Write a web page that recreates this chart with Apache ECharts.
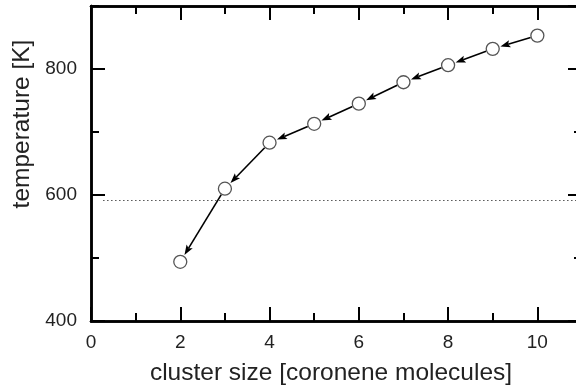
<!DOCTYPE html>
<html>
<head>
<meta charset="utf-8">
<script src="https://cdn.jsdelivr.net/npm/echarts@6/dist/echarts.min.js"></script>
<style>
html,body{margin:0;padding:0;background:#fff;}
#chart{width:576px;height:387px;}
</style>
</head>
<body>
<div id="chart"></div>
<script>
// ---- data ----
const clusterSize = [2, 3, 4, 5, 6, 7, 8, 9, 10];
const temperature = [494, 610, 683, 713, 745, 779, 806, 832, 853];
const referenceTemp = 591;
const xTicks = [0, 2, 4, 6, 8, 10];
const yTicks = [400, 600, 800];
const xTitle = 'cluster size [coronene molecules]';
const yTitle = 'temperature [K]';

const points = clusterSize.map((x, i) => [x, temperature[i]]);
// arrows go from the larger cluster to the next smaller one
const arrows = [];
for (let i = clusterSize.length - 1; i > 0; i--) {
  arrows.push([clusterSize[i], temperature[i], clusterSize[i - 1], temperature[i - 1]]);
}

const chart = echarts.init(document.getElementById('chart'), null, {renderer: 'canvas'});
const FONT = 'Liberation Sans, Arial, sans-serif';
const AX = {lineStyle: {color: '#000', width: 2.5}, onZero: false};

function xAx(pos, interval, len, labels) {
  return {
    type: 'value', position: pos, min: 0, max: 11, interval: interval,
    axisLine: Object.assign({show: true}, AX),
    axisTick: {show: true, inside: true, length: len, lineStyle: {color: '#000', width: 2}},
    axisLabel: labels ? {
      show: true, margin: 12, color: '#222', fontSize: 19, fontFamily: FONT,
      showMaxLabel: false,
      formatter: v => (xTicks.indexOf(v) >= 0 ? String(v) : '')
    } : {show: false},
    splitLine: {show: false}
  };
}
function yAx(pos, interval, len, labels) {
  return {
    type: 'value', position: pos, min: 400, max: 900, interval: interval,
    axisLine: Object.assign({show: true}, AX),
    axisTick: {show: true, inside: true, length: len, lineStyle: {color: '#000', width: 2}},
    axisLabel: labels ? {
      show: true, margin: 14, color: '#222', fontSize: 19, fontFamily: FONT,
      showMaxLabel: false,
      formatter: v => (yTicks.indexOf(v) >= 0 ? String(v) : '')
    } : {show: false},
    splitLine: {show: false}
  };
}

const R = 6.5;
const option = {
  animation: false,
  backgroundColor: '#fff',
  grid: {left: 91, top: 6, width: 491, height: 315, containLabel: false, outerBoundsMode: 'none'},
  xAxis: [xAx('bottom', 1, 8, false), xAx('bottom', 2, 14, true), xAx('top', 1, 8, false), xAx('top', 2, 14, false)],
  yAxis: [yAx('left', 100, 8, false), yAx('left', 200, 14, true), yAx('right', 100, 8, false), yAx('right', 200, 14, false)],
  graphic: [
    {type: 'text', x: 331, y: 373, style: {text: xTitle, x: 0, y: 0, align: 'center', verticalAlign: 'middle', fontSize: 24.5, fontFamily: FONT, fill: '#222'}},
    {type: 'text', x: 22, y: 124, rotation: Math.PI / 2, style: {text: yTitle, x: 0, y: 0, align: 'center', verticalAlign: 'middle', fontSize: 24.5, fontFamily: FONT, fill: '#222'}}
  ],
  series: [
    {
      type: 'custom',
      xAxisIndex: 1, yAxisIndex: 1,
      data: arrows,
      z: 2,
      renderItem: function (params, api) {
        const p1 = api.coord([api.value(0), api.value(1)]);
        const p2 = api.coord([api.value(2), api.value(3)]);
        const dx = p2[0] - p1[0], dy = p2[1] - p1[1];
        const L = Math.sqrt(dx * dx + dy * dy);
        const ux = dx / L, uy = dy / L;
        const s = [p1[0] + ux * (R + 0.5), p1[1] + uy * (R + 0.5)];
        const tip = [p2[0] - ux * (R + 1.5), p2[1] - uy * (R + 1.5)];
        const hl = 10, hw = 3.6;
        const base = [tip[0] - ux * hl, tip[1] - uy * hl];
        const nx = -uy, ny = ux;
        return {
          type: 'group',
          children: [
            {type: 'line', shape: {x1: s[0], y1: s[1], x2: base[0] + ux * 2, y2: base[1] + uy * 2}, style: {stroke: '#000', lineWidth: 1.6}},
            {type: 'polygon', shape: {points: [tip, [base[0] + nx * hw, base[1] + ny * hw], [base[0] + ux * 2, base[1] + uy * 2], [base[0] - nx * hw, base[1] - ny * hw]]}, style: {fill: '#000'}}
          ]
        };
      }
    },
    {
      type: 'scatter',
      xAxisIndex: 1, yAxisIndex: 1,
      data: points,
      symbol: 'circle',
      symbolSize: 2 * R,
      z: 3,
      itemStyle: {color: '#fff', borderColor: '#555', borderWidth: 1.3, opacity: 1},
      markLine: {
        silent: true,
        symbol: ['none', 'none'],
        label: {show: false},
        lineStyle: {color: '#555', width: 1, type: [1.5, 2.5]},
        data: [[{coord: [0.27, referenceTemp]}, {coord: [11, referenceTemp]}]]
      }
    }
  ]
};
chart.setOption(option);
</script>
</body>
</html>
